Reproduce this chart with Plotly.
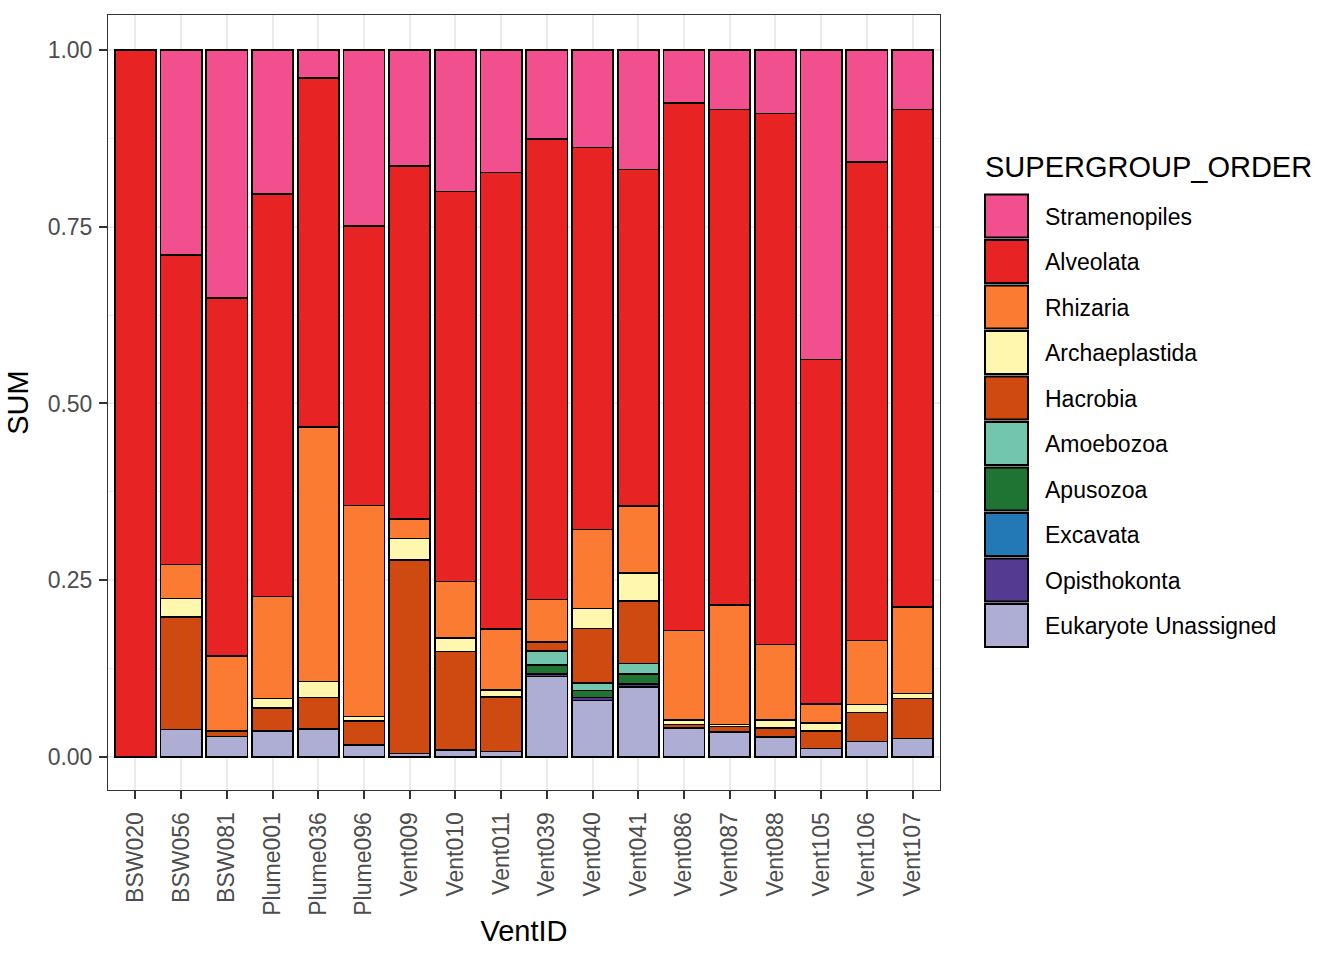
import plotly.graph_objects as go

# samples on the x axis
vent_ids = ['BSW020', 'BSW056', 'BSW081', 'Plume001', 'Plume036', 'Plume096',
            'Vent009', 'Vent010', 'Vent011', 'Vent039', 'Vent040', 'Vent041',
            'Vent086', 'Vent087', 'Vent088', 'Vent105', 'Vent106', 'Vent107']

# relative abundance per supergroup
stramenopiles = [0.000, 0.290, 0.351, 0.204, 0.040, 0.249, 0.164, 0.200, 0.173,
                 0.126, 0.138, 0.169, 0.075, 0.084, 0.090, 0.438, 0.158, 0.084]
alveolata = [1.000, 0.438, 0.506, 0.569, 0.493, 0.395, 0.499, 0.552, 0.646,
             0.651, 0.540, 0.476, 0.746, 0.701, 0.751, 0.487, 0.677, 0.704]
rhizaria = [0.000, 0.048, 0.106, 0.144, 0.360, 0.299, 0.028, 0.080, 0.086,
            0.060, 0.112, 0.095, 0.127, 0.169, 0.107, 0.027, 0.091, 0.122]
archaeplastida = [0.000, 0.026, 0.000, 0.014, 0.023, 0.006, 0.030, 0.019, 0.010,
                  0.000, 0.028, 0.039, 0.006, 0.003, 0.011, 0.011, 0.011, 0.007]
hacrobia = [0.000, 0.159, 0.008, 0.032, 0.044, 0.034, 0.274, 0.139, 0.077,
            0.013, 0.077, 0.089, 0.005, 0.008, 0.013, 0.025, 0.041, 0.057]
amoebozoa = [0.000, 0.000, 0.000, 0.000, 0.000, 0.000, 0.000, 0.000, 0.000,
             0.020, 0.011, 0.015, 0.000, 0.000, 0.000, 0.000, 0.000, 0.000]
apusozoa = [0.000, 0.000, 0.000, 0.000, 0.000, 0.000, 0.000, 0.000, 0.000,
            0.013, 0.010, 0.014, 0.000, 0.000, 0.000, 0.000, 0.000, 0.000]
excavata = [0.000] * 18
opisthokonta = [0.000, 0.000, 0.000, 0.000, 0.000, 0.000, 0.000, 0.000, 0.000,
                0.003, 0.004, 0.004, 0.000, 0.000, 0.000, 0.000, 0.000, 0.000]
eukaryote_unassigned = [0.000, 0.039, 0.029, 0.037, 0.040, 0.017, 0.005, 0.010, 0.008,
                        0.114, 0.080, 0.099, 0.041, 0.035, 0.028, 0.012, 0.022, 0.026]

groups = ['Stramenopiles', 'Alveolata', 'Rhizaria', 'Archaeplastida', 'Hacrobia',
          'Amoebozoa', 'Apusozoa', 'Excavata', 'Opisthokonta', 'Eukaryote Unassigned']
colors = ['#F24F8F', '#E72423', '#FC7B32', '#FFF7AE', '#CF4A10',
          '#72C6AE', '#1F7434', '#2279B5', '#543B91', '#AEAED4']
values = [stramenopiles, alveolata, rhizaria, archaeplastida, hacrobia,
          amoebozoa, apusozoa, excavata, opisthokonta, eukaryote_unassigned]

FONT = 'Liberation Sans, Arial, Helvetica, sans-serif'

fig = go.Figure()
# ggplot stacks the first level on top, so add from the bottom up
for name, col, vals in reversed(list(zip(groups, colors, values))):
    fig.add_trace(go.Bar(x=vent_ids, y=vals, name=name, width=0.9,
                         marker=dict(color=col, line=dict(color='black', width=1.6)),
                         showlegend=False))

# plot panel in pixels
L, R, T, B = 108, 940, 15, 790
W, H = 1344, 960


def px(x):
    return (x - L) / (R - L)


def py(y):
    return (B - y) / (B - T)


# hand-drawn legend to get ggplot-sized keys
shapes = []
annotations = [dict(text='SUPERGROUP_ORDER', x=px(983), y=py(167), xref='paper', yref='paper',
                    xanchor='left', yanchor='middle', showarrow=False,
                    font=dict(size=29, color='black', family=FONT))]
for i, (name, col) in enumerate(zip(groups, colors)):
    top = 194.5 + 45.5 * i
    shapes.append(dict(type='rect', xref='paper', yref='paper',
                       x0=px(985), x1=px(1028), y0=py(top + 43), y1=py(top),
                       fillcolor=col, line=dict(color='black', width=2)))
    annotations.append(dict(text=name, x=px(1043), y=py(top + 22), xref='paper', yref='paper',
                            xanchor='left', yanchor='middle', showarrow=False,
                            font=dict(size=23, color='black', family=FONT)))

fig.update_layout(
    barmode='stack', width=W, height=H,
    margin=dict(l=L, r=W - R, t=T, b=H - B, pad=0),
    plot_bgcolor='white', paper_bgcolor='white',
    font=dict(family=FONT, color='black'),
    shapes=shapes, annotations=annotations,
)
fig.update_xaxes(
    type='category', range=[-0.6, 17.6], automargin=False,
    showgrid=True, gridcolor='#EBEBEB', gridwidth=2,
    showline=True, mirror=True, linecolor='#333333', linewidth=1,
    ticks='outside', ticklen=8, tickwidth=1.5, tickcolor='#333333',
    tickangle=-90, ticklabelstandoff=4,
    tickfont=dict(size=23, color='#4D4D4D', family=FONT),
    title=dict(text='VentID', font=dict(size=29, color='black', family=FONT), standoff=5),
)
fig.update_yaxes(
    range=[-0.0467, 1.0495], automargin=False, zeroline=False,
    tickvals=[0, 0.25, 0.5, 0.75, 1.0], ticktext=['0.00', '0.25', '0.50', '0.75', '1.00'],
    showgrid=True, gridcolor='#EBEBEB', gridwidth=2,
    minor=dict(tickvals=[0.125, 0.375, 0.625, 0.875], showgrid=True,
               gridcolor='#EBEBEB', gridwidth=1, ticks=''),
    showline=True, mirror=True, linecolor='#333333', linewidth=1,
    ticks='outside', ticklen=8, tickwidth=1.5, tickcolor='#333333',
    ticklabelstandoff=2,
    tickfont=dict(size=23, color='#4D4D4D', family=FONT),
    title=dict(text='SUM', font=dict(size=29, color='black', family=FONT), standoff=10),
)

# drop the browser's default body margin so the figure sits at the page corner
fig.write_html('out.html', config={'displayModeBar': False},
               post_script="document.body.style.margin = '0';")
